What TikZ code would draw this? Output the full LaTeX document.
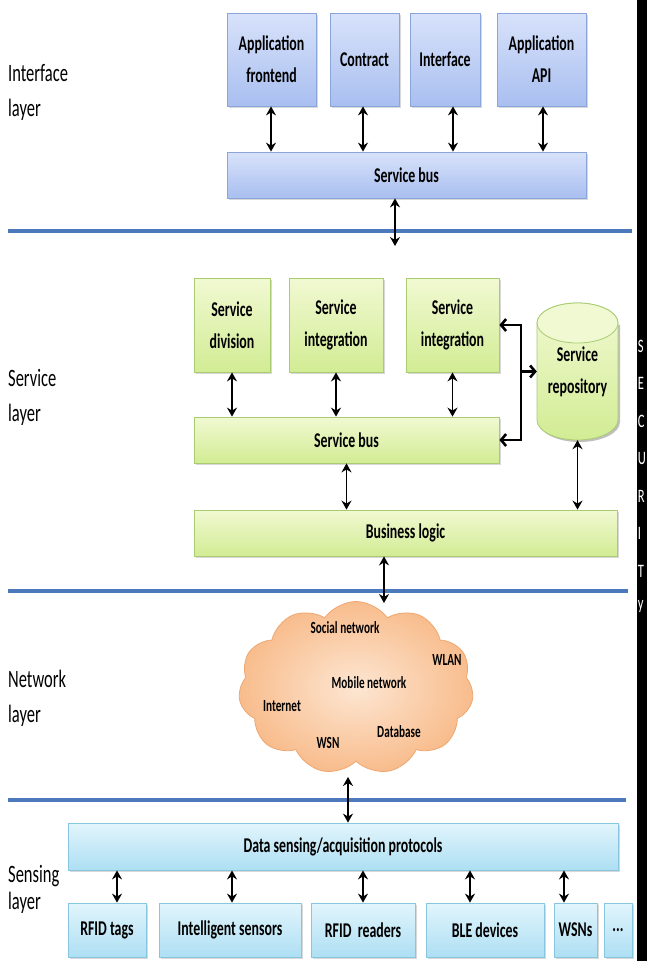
\documentclass[tikz,border=0pt]{standalone}
\usepackage{fontspec}
\setmainfont{Carlito}[FakeStretch=0.66]
\usetikzlibrary{shapes.geometric,shapes.symbols,arrows.meta,shadows}
\definecolor{ifillA}{HTML}{D8E2FA}
\definecolor{ifillB}{HTML}{A9BFF0}
\definecolor{idraw}{HTML}{8AA5DA}
\definecolor{sfillA}{HTML}{F1F9D2}
\definecolor{sfillB}{HTML}{D2EC94}
\definecolor{sdraw}{HTML}{A9CB72}
\definecolor{cfillA}{HTML}{E2F5FC}
\definecolor{cfillB}{HTML}{ADDFF3}
\definecolor{cdraw}{HTML}{88C5DE}
\definecolor{layline}{HTML}{4C78BC}
\definecolor{cloudA}{HTML}{FDE6D2}
\definecolor{cloudB}{HTML}{F8BC8C}
\definecolor{clouddraw}{HTML}{EEA770}
\tikzset{
  boxbase/.style={draw, line width=0.8pt, align=center, inner sep=0pt,
    font={\bfseries\fontsize{21}{32}\selectfont},
    drop shadow={shadow xshift=1.5pt,shadow yshift=-2pt,opacity=0.3}},
  ibox/.style={boxbase, draw=idraw, top color=ifillA, bottom color=ifillB},
  sbox/.style={boxbase, draw=sdraw, top color=sfillA, bottom color=sfillB},
  cbox/.style={boxbase, draw=cdraw, top color=cfillA, bottom color=cfillB},
  laylabel/.style={anchor=west, align=left, inner sep=0pt, font={\fontsize{25}{35}\selectfont}},
  cloudtxt/.style={inner sep=0pt, font={\bfseries\fontsize{17}{20}\selectfont}},
  dar/.style={{Stealth[length=9pt,width=10pt,inset=3pt]}-{Stealth[length=9pt,width=10pt,inset=3pt]}, line width=1.7pt},
  bk/.style={line width=2.6pt},
  barb/.tip={Straight Barb[length=5pt,width=12pt,line width=2.6pt]},
  sepline/.style={line width=4pt, draw=layline},
  seclet/.style={anchor=west, inner sep=0pt, text=white, font={\fontsize{19}{19}\selectfont}}
}
\begin{document}
\begin{tikzpicture}[x=1pt,y=-1pt]
\useasboundingbox (0,0) rectangle (646,961);
\fill[white] (0,0) rectangle (646,961);
% separator lines
\draw[sepline] (8,231) coordinate (l1a) -- (632,231) coordinate (l1b);
\draw[sepline] (8,591) coordinate (l2a) -- (628,591) coordinate (l2b);
\draw[sepline] (8,800) coordinate (l3a) -- (626,800) coordinate (l3b);
% layer labels
\node[laylabel] (labI) at (8,92.5) {Interface\\layer};
\node[laylabel] (labS) at (8,397.5) {Service\\layer};
\node[laylabel] (labN) at (8,698) {Network\\layer};
\node[laylabel, font={\fontsize{25}{27}\selectfont}] (labSe) at (8,889) {Sensing\\layer};
% interface layer
\node[ibox, minimum width=89pt, minimum height=93pt] (appfe) at (271.5,59.5) {Application\\frontend};
\node[ibox, minimum width=69pt, minimum height=93pt] (contract) at (364.5,59.5) {Contract};
\node[ibox, minimum width=70pt, minimum height=93pt] (iface) at (445,59.5) {Interface};
\node[ibox, minimum width=89pt, minimum height=93pt] (api) at (541.5,59.5) {Application\\API};
\node[ibox, minimum width=359pt, minimum height=46pt] (ibus) at (406.5,175) {Service bus};
\coordinate (xi1) at (271,0);
\coordinate (xi2) at (363,0);
\coordinate (xi3) at (453,0);
\coordinate (xi4) at (543,0);
\draw[dar] (appfe.south -| xi1) -- (ibus.north -| xi1);
\draw[dar] (contract.south -| xi2) -- (ibus.north -| xi2);
\draw[dar] (iface.south -| xi3) -- (ibus.north -| xi3);
\draw[dar] (api.south -| xi4) -- (ibus.north -| xi4);
\coordinate (ibend) at (395,246);
\draw[dar] (ibus.south -| ibend) -- (ibend);
% service layer
\node[sbox, minimum width=76pt, minimum height=94pt] (sdiv) at (232,325) {Service\\division};
\node[sbox, minimum width=94pt, minimum height=94pt] (sint1) at (336,325) {Service\\integration};
\node[sbox, minimum width=93pt, minimum height=94pt] (sint2) at (452.5,325) {Service\\integration};
\node[sbox, minimum width=305pt, minimum height=46pt] (sbus) at (346.5,440) {Service bus};
\node[sbox, minimum width=423pt, minimum height=46pt] (blogic) at (405.5,533) {Business logic};
% repository cylinder
\fill[black, opacity=0.25] (539,325) -- (539,422) arc[start angle=180,end angle=360,x radius=40.5pt,y radius=20pt] -- (620,325) -- cycle;
\path[draw=sdraw, line width=0.8pt, top color=sfillA, bottom color=sfillB]
  (537,323) -- (537,420) arc[start angle=180,end angle=360,x radius=40.5pt,y radius=20pt]
  -- (618,323) arc[start angle=0,end angle=180,x radius=40.5pt,y radius=20pt] -- cycle;
\path[draw=sdraw, line width=0.8pt, fill=sfillA] (577.5,323) ellipse[x radius=40.5pt,y radius=20pt];
\node[align=center, inner sep=0pt, minimum width=81pt, minimum height=137pt,
      font={\bfseries\fontsize{21}{32}\selectfont}] (repo) at (577.5,371.5) {Service\\repository};
\draw[dar] (sdiv.south) -- (sbus.north -| sdiv.south);
\draw[dar] (sint1.south) -- (sbus.north -| sint1.south);
\draw[dar] (sint2.south) -- (sbus.north -| sint2.south);
\draw[dar] (sbus.south) -- (blogic.north -| sbus.south);
\draw[dar] (repo.south) -- (blogic.north -| repo.south);
\coordinate (blend) at (384,603);
\draw[dar] (blogic.south -| blend) -- (blend);
\coordinate (bkx) at (521,0);
\draw[bk, barb-barb]
  (sint2.east) -- (sint2.east -| bkx) -- (sbus.east -| bkx) -- (sbus.east);
\draw[bk, -barb] (repo.west -| bkx) -- (repo.west);
% network layer
\node[cloud, cloud puffs=11, cloud puff arc=110, aspect=1.36, draw=clouddraw, line width=0.8pt,
      inner color=cloudA, outer color=cloudB, minimum width=235pt, minimum height=173pt,
      inner sep=0pt] (net) at (356,688) {};
\node[cloudtxt] (t1) at (345,628) {Social network};
\node[cloudtxt] (t2) at (447,660) {WLAN};
\node[cloudtxt] (t3) at (369,683) {Mobile network};
\node[cloudtxt] (t4) at (282,706) {Internet};
\node[cloudtxt] (t5) at (399,732) {Database};
\node[cloudtxt] (t6) at (328,743) {WSN};
% sensing layer
\node[cbox, minimum width=550pt, minimum height=47pt] (dsp) at (343,846.5) {Data sensing/acquisition protocols};
\coordinate (netx) at (348,777);
\draw[dar] (netx) -- (dsp.north -| netx);
\node[cbox, minimum width=78pt, minimum height=54pt] (rfidt) at (107,930) {RFID tags};
\node[cbox, minimum width=142pt, minimum height=54pt] (isens) at (230,930) {Intelligent sensors};
\node[cbox, minimum width=104pt, minimum height=54pt] (rfidr) at (363,930) {RFID \ readers};
\node[cbox, minimum width=118pt, minimum height=54pt] (ble) at (485,930) {BLE devices};
\node[cbox, minimum width=43pt, minimum height=54pt] (wsns) at (575.5,930) {WSNs};
\node[cbox, minimum width=28pt, minimum height=54pt] (dots) at (618,930) {...};
\coordinate (xs1) at (117,0);
\coordinate (xs2) at (232,0);
\coordinate (xs3) at (363,0);
\coordinate (xs4) at (470,0);
\coordinate (xs5) at (564,0);
\draw[dar] (dsp.south -| xs1) -- (rfidt.north -| xs1);
\draw[dar] (dsp.south -| xs2) -- (isens.north -| xs2);
\draw[dar] (dsp.south -| xs3) -- (rfidr.north -| xs3);
\draw[dar] (dsp.south -| xs4) -- (ble.north -| xs4);
\draw[dar] (dsp.south -| xs5) -- (wsns.north -| xs5);
% right black strip with SECURITY letters (drawn last)
\fill[black] (636.5,-1) rectangle (647,962);
\node[seclet] (sec0) at (637.6,346) {S};
\node[seclet] (sec1) at (637.6,383.5) {E};
\node[seclet] (sec2) at (637.6,421) {C};
\node[seclet] (sec3) at (637.6,458.5) {U};
\node[seclet] (sec4) at (637.6,496) {R};
\node[seclet] (sec5) at (637.6,533.5) {I};
\node[seclet] (sec6) at (637.6,571) {T};
\node[seclet] (sec7) at (637.6,606) {y};
\end{tikzpicture}
\end{document}
